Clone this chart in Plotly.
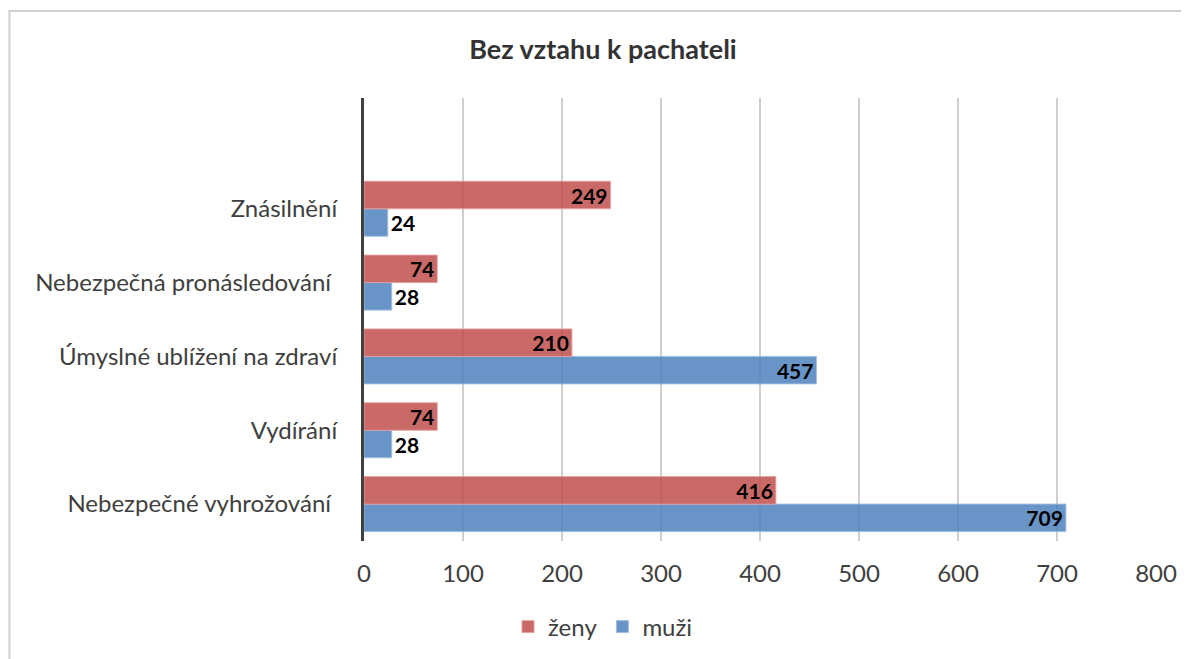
import plotly.graph_objects as go

title = "Bez vztahu k pachateli"
categories = ["Nebezpečné vyhrožování ", "Vydírání", "Úmyslné ublížení na zdraví",
              "Nebezpečná pronásledování ", "Znásilnění"]
empty_slot = " "
zeny = [416, 74, 210, 74, 249]
muzi = [709, 28, 457, 28, 24]
x_ticks = [0, 100, 200, 300, 400, 500, 600, 700, 800]

FONT = "Lato, 'Open Sans', sans-serif"

W, H = 1181, 651
L, R, T, B = 356, 31, 90, 118
PW, PH = W - L - R, H - T - B


def positions(vals):
    return ["inside" if v > 50 else "outside" for v in vals]


fig = go.Figure()
fig.add_trace(go.Bar(
    y=categories, x=muzi, name="muži", orientation="h",
    marker=dict(color="rgba(79,129,189,0.85)", line=dict(color="rgba(160,190,225,0.9)", width=1)),
    text=muzi, textposition=positions(muzi), insidetextanchor="end", textangle=0,
    textfont=dict(family=FONT, size=21, color="black", weight="bold"),
    constraintext="none", cliponaxis=False,
))
fig.add_trace(go.Bar(
    y=categories, x=zeny, name="ženy", orientation="h",
    marker=dict(color="rgba(192,80,77,0.85)", line=dict(color="rgba(230,160,158,0.9)", width=1)),
    text=zeny, textposition=positions(zeny), insidetextanchor="end", textangle=0,
    textfont=dict(family=FONT, size=21, color="black", weight="bold"),
    constraintext="none", cliponaxis=False,
))

fig.update_layout(
    width=W, height=H,
    paper_bgcolor="white", plot_bgcolor="white",
    margin=dict(l=L, r=R, t=T, b=B),
    barmode="group", bargap=0.255, bargroupgap=0,
    font=dict(family=FONT, color="#404040", size=24),
    title=dict(text="<b>" + title + "</b>", x=595 / W, xanchor="center",
               y=1 - 42 / H, yanchor="middle",
               font=dict(family=FONT, size=27, color="#333333")),
    showlegend=True,
    legend=dict(orientation="h", traceorder="reversed", xref="container", x=595 / W, xanchor="center",
                yref="container", y=1 - 619 / H, yanchor="middle",
                font=dict(family=FONT, size=24, color="#404040"), itemwidth=30),
    xaxis=dict(range=[0, 800], tickvals=x_ticks, showgrid=True, gridcolor="#CFCFCF", gridwidth=1.5,
               zeroline=False, showline=False, ticks="", ticklabelstandoff=16,
               tickfont=dict(size=24, color="#404040")),
    yaxis=dict(type="category", categoryorder="array", categoryarray=categories + [empty_slot],
               range=[-0.5, 5.5], showgrid=False, ticks="", ticklabelstandoff=19,
               showline=True, linecolor="#404040", linewidth=3,
               tickfont=dict(size=24, color="#404040")),
    shapes=[dict(type="rect", xref="paper", yref="paper",
                 x0=(0.5 - L) / PW, x1=(W + 20 - L) / PW,
                 y0=-(B + 20) / PH, y1=(PH + T - 3) / PH,
                 line=dict(color="#CFCFCF", width=2), fillcolor="rgba(0,0,0,0)", layer="below")],
)

fig.write_html("out.html")
